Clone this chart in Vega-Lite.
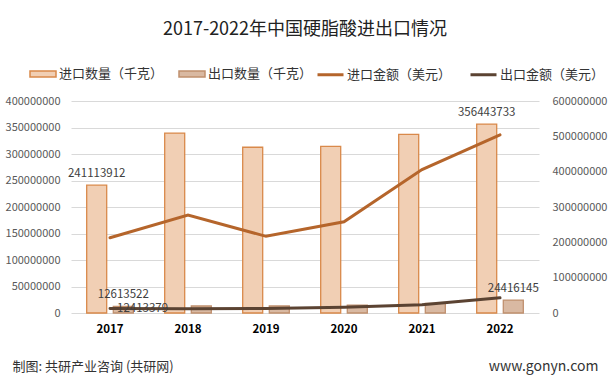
{
  "$schema": "https://vega.github.io/schema/vega-lite/v6.json",
  "width": 468,
  "height": 212,
  "autosize": {"type": "none"},
  "padding": {"left": 71, "top": 101, "right": 74, "bottom": 71},
  "background": "white",
  "title": {
    "text": "2017-2022年中国硬脂酸进出口情况",
    "font": "Noto Sans CJK SC",
    "fontSize": 18,
    "fontWeight": "normal",
    "color": "#222222",
    "anchor": "middle",
    "offset": 21
  },
  "data": {
    "values": [
      {"year": "2017", "series": "进口数量（千克）", "value": 241113912},
      {"year": "2018", "series": "进口数量（千克）", "value": 339500000},
      {"year": "2019", "series": "进口数量（千克）", "value": 312700000},
      {"year": "2020", "series": "进口数量（千克）", "value": 314500000},
      {"year": "2021", "series": "进口数量（千克）", "value": 337000000},
      {"year": "2022", "series": "进口数量（千克）", "value": 356443733},
      {"year": "2017", "series": "出口数量（千克）", "value": 12613522},
      {"year": "2018", "series": "出口数量（千克）", "value": 13200000},
      {"year": "2019", "series": "出口数量（千克）", "value": 13200000},
      {"year": "2020", "series": "出口数量（千克）", "value": 15000000},
      {"year": "2021", "series": "出口数量（千克）", "value": 18300000},
      {"year": "2022", "series": "出口数量（千克）", "value": 24416145},
      {"year": "2017", "series": "进口金额（美元）", "value": 213000000},
      {"year": "2018", "series": "进口金额（美元）", "value": 277000000},
      {"year": "2019", "series": "进口金额（美元）", "value": 217000000},
      {"year": "2020", "series": "进口金额（美元）", "value": 258000000},
      {"year": "2021", "series": "进口金额（美元）", "value": 406000000},
      {"year": "2022", "series": "进口金额（美元）", "value": 504000000},
      {"year": "2017", "series": "出口金额（美元）", "value": 12413379},
      {"year": "2018", "series": "出口金额（美元）", "value": 12300000},
      {"year": "2019", "series": "出口金额（美元）", "value": 13000000},
      {"year": "2020", "series": "出口金额（美元）", "value": 16000000},
      {"year": "2021", "series": "出口金额（美元）", "value": 23500000},
      {"year": "2022", "series": "出口金额（美元）", "value": 43000000}
    ]
  },
  "encoding": {
    "x": {
      "field": "year",
      "type": "nominal",
      "scale": {"paddingInner": 0, "paddingOuter": 0},
      "axis": {
        "labelAngle": 0,
        "labelFontWeight": "bold",
        "labelFontSize": 11.5,
        "labelColor": "#000000",
        "labelPadding": 10,
        "ticks": false,
        "domain": false,
        "title": "制图: 共研产业咨询 (共研网)",
        "titleFontSize": 13,
        "titleFontWeight": "normal",
        "titleColor": "#333333",
        "titleAnchor": "start",
        "titleAlign": "left",
        "titleBaseline": "middle",
        "titleX": -59,
        "titleY": 53
      }
    }
  },
  "layer": [
    {
      "transform": [{"filter": "indexof(datum.series, '数量') >= 0"}],
      "mark": {"type": "bar", "strokeWidth": 1.3},
      "encoding": {
        "xOffset": {
          "field": "series",
          "type": "nominal",
          "sort": ["进口数量（千克）", "出口数量（千克）"],
          "scale": {"domain": ["进口数量（千克）", "出口数量（千克）"], "paddingInner": 0.248, "paddingOuter": 0.59}
        },
        "y": {
          "field": "value",
          "type": "quantitative",
          "scale": {"domain": [0, 400000000], "nice": false},
          "axis": {
            "orient": "left",
            "values": [0, 50000000, 100000000, 150000000, 200000000, 250000000, 300000000, 350000000, 400000000],
            "format": "d",
            "grid": true,
            "gridColor": "#D9D9D9",
            "domain": false,
            "ticks": false,
            "labelPadding": 11,
            "labelFontSize": 11,
            "labelColor": "#595959",
            "title": null
          }
        },
        "fill": {
          "field": "series",
          "type": "nominal",
          "scale": {"domain": ["进口数量（千克）", "出口数量（千克）"], "range": ["#F1CFB4", "#D9B9A2"]},
          "legend": {
            "orient": "none",
            "legendX": -42,
            "legendY": -41,
            "direction": "horizontal",
            "title": null,
            "symbolType": "M-1,-0.23H1V0.23H-1Z",
            "symbolSize": 676,
            "symbolStrokeWidth": 1.5
          }
        },
        "stroke": {
          "field": "series",
          "type": "nominal",
          "scale": {"domain": ["进口数量（千克）", "出口数量（千克）"], "range": ["#D9894A", "#C0906E"]},
          "legend": {
            "orient": "none",
            "legendX": -42,
            "legendY": -41,
            "direction": "horizontal",
            "title": null,
            "symbolType": "M-1,-0.23H1V0.23H-1Z",
            "symbolSize": 676,
            "symbolStrokeWidth": 1.5
          }
        }
      }
    },
    {
      "transform": [
        {"filter": "indexof(datum.series, '数量') >= 0"},
        {"filter": "datum.year == '2017' || datum.year == '2022'"}
      ],
      "mark": {"type": "text", "baseline": "alphabetic", "dy": -8, "fontSize": 11.5, "color": "#404040"},
      "encoding": {
        "xOffset": {
          "field": "series",
          "type": "nominal",
          "sort": ["进口数量（千克）", "出口数量（千克）"]
        },
        "y": {
          "field": "value",
          "type": "quantitative",
          "scale": {"domain": [0, 400000000], "nice": false},
          "axis": null
        },
        "text": {"field": "value", "type": "quantitative", "format": "d"}
      }
    },
    {
      "transform": [{"filter": "indexof(datum.series, '金额') >= 0"}],
      "mark": {"type": "line", "strokeWidth": 3, "strokeCap": "round"},
      "encoding": {
        "y": {
          "field": "value",
          "type": "quantitative",
          "scale": {"domain": [0, 600000000], "nice": false},
          "axis": {
            "orient": "right",
            "values": [0, 100000000, 200000000, 300000000, 400000000, 500000000, 600000000],
            "format": "d",
            "grid": false,
            "domain": false,
            "ticks": false,
            "labelPadding": 13,
            "labelFontSize": 11,
            "labelColor": "#595959",
            "title": "www.gonyn.com",
            "titleAngle": 0,
            "titleFontSize": 14,
            "titleFontWeight": "normal",
            "titleColor": "#333333",
            "titleAlign": "right",
            "titleBaseline": "middle",
            "titleX": 59,
            "titleY": 265
          }
        },
        "color": {
          "field": "series",
          "type": "nominal",
          "scale": {"domain": ["进口金额（美元）", "出口金额（美元）"], "range": ["#B5652B", "#5B4332"]},
          "legend": {
            "orient": "none",
            "legendX": 245,
            "legendY": -41,
            "direction": "horizontal",
            "title": null,
            "symbolType": "stroke",
            "symbolSize": 676,
            "symbolStrokeWidth": 3
          }
        }
      }
    },
    {
      "transform": [
        {"filter": "datum.series == '出口金额（美元）' && datum.year == '2017'"}
      ],
      "mark": {"type": "text", "align": "left", "baseline": "middle", "dx": 7, "fontSize": 11.5, "color": "#404040"},
      "encoding": {
        "y": {
          "field": "value",
          "type": "quantitative",
          "scale": {"domain": [0, 600000000], "nice": false},
          "axis": null
        },
        "text": {"field": "value", "type": "quantitative", "format": "d"}
      }
    }
  ],
  "resolve": {"scale": {"y": "independent"}},
  "config": {
    "font": "Noto Sans CJK SC",
    "view": {"stroke": null},
    "legend": {
      "labelFontSize": 13,
      "labelColor": "#333333",
      "labelFont": "Noto Sans CJK SC",
      "labelOffset": 2,
      "columnPadding": 12,
      "labelLimit": 300
    }
  }
}
